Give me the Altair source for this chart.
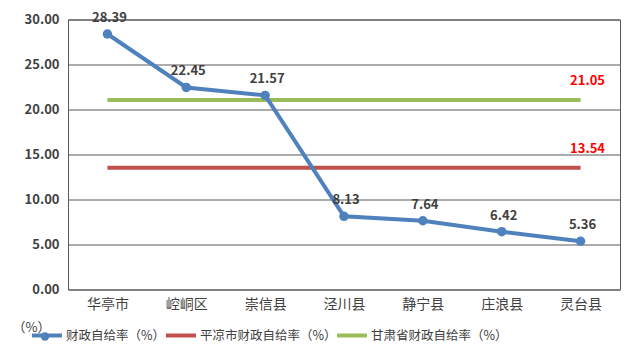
import altair as alt
import pandas as pd

categories = ["华亭市", "崆峒区", "崇信县", "泾川县", "静宁县", "庄浪县", "灵台县"]
county_rate = [28.39, 22.45, 21.57, 8.13, 7.64, 6.42, 5.36]
pingliang_rate = 13.54
gansu_rate = 21.05
series_names = ["财政自给率（%）", "平凉市财政自给率（%）", "甘肃省财政自给率（%）"]
series_colors = ["#4F81BD", "#C0504D", "#9BBB59"]
y_ticks = [0, 5, 10, 15, 20, 25, 30]

rows = []
for c, v in zip(categories, county_rate):
    rows.append({"cat": c, "val": v, "series": series_names[0], "dot": "dot"})
for c in categories:
    rows.append({"cat": c, "val": pingliang_rate, "series": series_names[1], "dot": ""})
    rows.append({"cat": c, "val": gansu_rate, "series": series_names[2], "dot": ""})
df = pd.DataFrame(rows)

FONT = "Noto Sans CJK SC"
TXT = "#404040"
GRID = "#595959"

x = alt.X(
    "cat:N", sort=categories,
    scale=alt.Scale(type="point", padding=0.5),
    axis=alt.Axis(title=None, labelAngle=0, ticks=False, domain=False, grid=False,
                  labelFontSize=14, labelColor=TXT, labelFont=FONT, labelPadding=8,
                  labelFontWeight="normal"),
)
y = alt.Y(
    "val:Q",
    scale=alt.Scale(domain=[0, 30], nice=False, zero=True),
    axis=alt.Axis(values=y_ticks, format=".2f", ticks=False, domain=False,
                  grid=True, gridColor=GRID, gridWidth=1, gridOpacity=1,
                  labelFontSize=13, labelColor=TXT, labelFont=FONT,
                  labelFontWeight="bold", labelPadding=9,
                  title="（%）", titleAngle=0, titleX=-56, titleY=308,
                  titleAlign="left", titleBaseline="middle", titleFont=FONT,
                  titleFontSize=13, titleFontWeight="normal", titleColor=TXT),
)
color = alt.Color(
    "series:N",
    scale=alt.Scale(domain=series_names, range=series_colors),
    legend=alt.Legend(title=None, orient="none", legendX=-38, legendY=299,
                      direction="horizontal", symbolType="stroke", symbolSize=900,
                      symbolStrokeWidth=4, labelFontSize=12.5, labelFont=FONT,
                      labelColor=TXT, columnPadding=-8, labelOffset=2,
                      labelLimit=300, gridAlign="none"),
)

base = alt.Chart(df).encode(x=x, y=y, color=color)

ref_lines = base.transform_filter(
    alt.datum.series != series_names[0]
).mark_line(strokeWidth=4)

blue = base.transform_filter(alt.datum.series == series_names[0])
blue_line = blue.mark_line(strokeWidth=4)
blue_pts = blue.mark_point(filled=True, size=90, opacity=1).encode(
    shape=alt.Shape("dot:N", scale=alt.Scale(domain=["dot"], range=["circle"]),
                    legend=alt.Legend(title=None, orient="none", legendX=-28, legendY=312,
                                      labelExpr="''", symbolType="circle", symbolSize=70,
                                      symbolFillColor=series_colors[0],
                                      symbolStrokeColor=series_colors[0],
                                      symbolStrokeWidth=0, symbolOpacity=1))
)
blue_txt = blue.mark_text(baseline="bottom", dy=-9, dx=2, fontSize=13, fontWeight="bold",
                          font=FONT, color=TXT).encode(
    text=alt.Text("val:Q", format=".2f"), color=alt.value(TXT))

ref_txt = base.transform_filter(
    (alt.datum.series != series_names[0]) & (alt.datum.cat == categories[-1])
).mark_text(baseline="bottom", dy=-12, dx=7, fontSize=13, fontWeight="bold",
            font=FONT).encode(
    text=alt.Text("val:Q", format=".2f"), color=alt.value("#FF0000"))

chart = alt.layer(ref_lines, blue_line, blue_pts, blue_txt, ref_txt).properties(
    width=552, height=270,
    autosize=alt.AutoSizeParams(type="none"),
    padding={"left": 60, "top": 11.5, "right": 13, "bottom": 70},
    background="white",
).configure_view(stroke=GRID, strokeWidth=1)

chart.save("out.html", embed_options={"renderer": "svg", "actions": False})
